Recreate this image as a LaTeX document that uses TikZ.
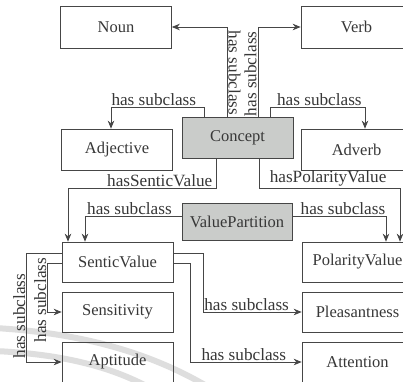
\documentclass[tikz,border=0pt]{standalone}
\usepackage{fontspec}
\setmainfont{Liberation Serif}
\usetikzlibrary{arrows.meta,calc}
\definecolor{linec}{RGB}{70,70,70}
\definecolor{textc}{RGB}{55,55,55}
\definecolor{classfill}{RGB}{202,204,202}
\definecolor{bandc}{RGB}{222,222,222}
\begin{document}
\begin{tikzpicture}[x=1pt,y=-1pt,
  every node/.style={font=\fontsize{16.5}{18}\selectfont, text=textc},
  cls/.style={draw=linec, line width=0.7pt, minimum width=111pt, minimum height=40pt, inner sep=0pt},
  topcls/.style={cls, fill=classfill},
  arr/.style={draw=linec, line width=0.7pt, -{Stealth[length=8pt,width=6.5pt]}},
  lbl/.style={inner sep=1pt, font=\fontsize{17.2}{18}\selectfont}
]
\useasboundingbox (0,0) rectangle (403,381);
\fill[white] (0,0) rectangle (403,381);

% faint bands in the lower left corner
\draw[bandc, line width=6pt] (-5,328) .. controls (80,333) and (150,352) .. (210,388);
\draw[bandc, line width=6pt] (-5,351) .. controls (60,354) and (110,366) .. (150,388);

% classes
\node[cls, minimum height=42pt] (noun) at (116,27) {Noun};
\node[cls, minimum height=42pt] (verb) at (356.5,27) {Verb};
\node[topcls, minimum height=41pt] (concept) at (237.5,138) {Concept};
\node[cls, minimum height=41pt] (adj) at (117,149.5) {Adjective};
\node[cls, minimum height=41pt] (adv) at (356.5,149.5) {Adverb};
\node[topcls, minimum width=110pt, minimum height=37pt] (vp) at (237,221.5) {ValuePartition};
\node[cls] (sv) at (117.5,262) {SenticValue};
\node[cls] (pv) at (357.5,262) {PolarityValue};
\node[cls] (sens) at (117.5,312) {Sensitivity};
\node[cls] (plea) at (357.5,312) {Pleasantness};
\node[cls] (apt) at (117.5,362) {Aptitude};
\node[cls] (att) at (357.5,362) {Attention};

% Concept to Noun and Verb
\draw[arr] ([xshift=-10.5pt]concept.north) |- (noun.east)
  node[lbl, pos=0.245, rotate=-90, anchor=south] {has subclass};
\draw[arr] ([xshift=20.5pt]concept.north) |- (verb.west)
  node[lbl, pos=0.24, rotate=90, anchor=south] {has subclass};

% Concept to Adjective and Adverb
\draw[arr] ([xshift=-33.5pt]concept.north) -- ++(0,-10) -| ([xshift=-6pt]adj.north)
  node[lbl, pos=0.27, above] {has subclass};
\draw[arr] ([xshift=32.5pt]concept.north) -- ++(0,-10) -| ([xshift=8.5pt]adv.north)
  node[lbl, pos=0.26, above] {has subclass};

% value properties of Concept
\draw[arr] ([xshift=-21.5pt]concept.south) -- ++(0,29) -| ([xshift=-49.5pt]sv.north)
  node[lbl, pos=0.19, above] {hasSenticValue};
\draw[arr] ([xshift=21.5pt]concept.south) -- ++(0,29) -| ([xshift=42.5pt]pv.north)
  node[lbl, pos=0.245, above] {hasPolarityValue};

% ValuePartition subclasses
\draw[arr] ([yshift=5.5pt]vp.west) -| ([xshift=-32.5pt]sv.north)
  node[lbl, pos=0.27, above] {has subclass};
\draw[arr] ([yshift=5.5pt]vp.east) -| ([xshift=28.5pt]pv.north)
  node[lbl, pos=0.27, above] {has subclass};

% SenticValue subclasses
\draw[arr] ([yshift=9pt]sv.west) -- ++(-35,0) |- (apt.west)
  node[lbl, pos=0.29, rotate=90, anchor=south] {has subclass};
\draw[arr] ([yshift=-1pt]sv.west) -- ++(-14,0) |- (sens.west)
  node[lbl, pos=0.38, rotate=90, anchor=south] {has subclass};
\draw[arr] ([yshift=9pt]sv.east) -- ++(30,0) |- (plea.west)
  node[lbl, pos=0.72, above] {has subclass};
\draw[arr] ([yshift=-1pt]sv.east) -- ++(17,0) |- (att.west)
  node[lbl, pos=0.74, above] {has subclass};
\end{tikzpicture}
\end{document}
